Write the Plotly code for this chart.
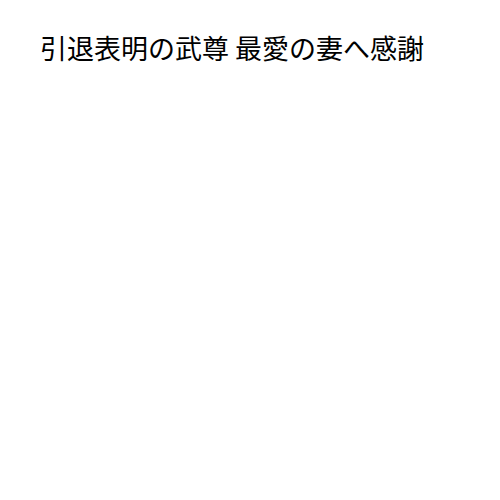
import plotly.graph_objects as go

title_text = "引退表明の武尊 最愛の妻へ感謝"

fig = go.Figure()

fig.update_layout(
    title=dict(text=title_text, x=0.064, xanchor='left', y=0.916, yanchor='middle',
               font=dict(family='Noto Sans CJK JP', size=27, color='black')),
    width=500, height=500,
    paper_bgcolor='white', plot_bgcolor='white',
    xaxis=dict(visible=False), yaxis=dict(visible=False),
    margin=dict(l=40, r=40, t=80, b=40)
)

fig.write_html("out.html")
